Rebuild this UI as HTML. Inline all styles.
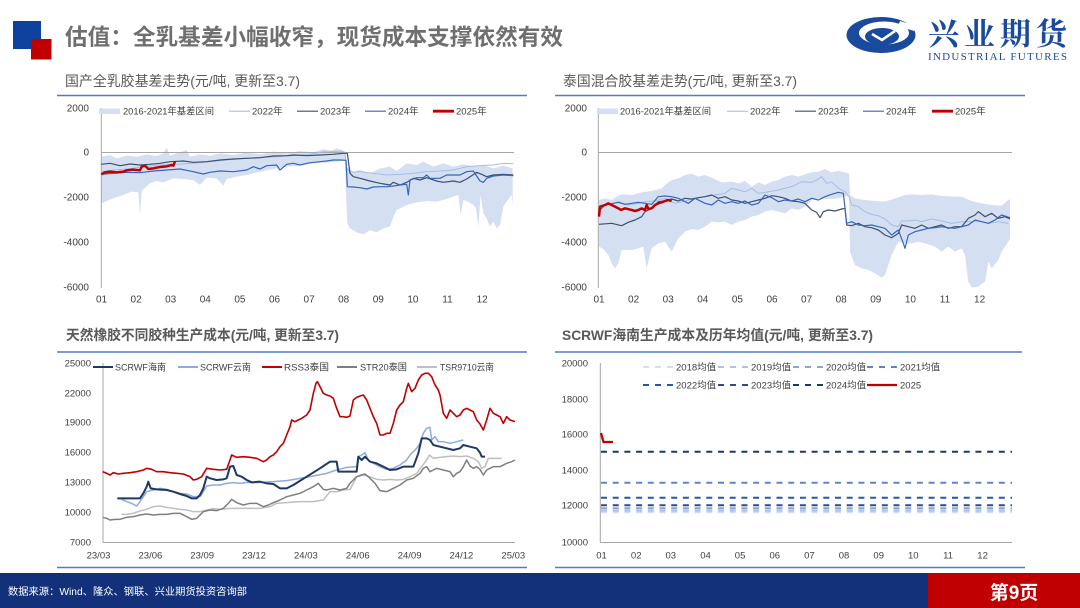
<!DOCTYPE html>
<html>
<head>
<meta charset="utf-8">
<style>
html,body{margin:0;padding:0;background:#fff;}
body{width:1080px;height:608px;overflow:hidden;}
svg{display:block;}
</style>
</head>
<body>
<svg width="1080" height="608" viewBox="0 0 1080 608" xmlns="http://www.w3.org/2000/svg" font-family="'Liberation Sans','Noto Sans CJK SC',sans-serif">
<rect x="0" y="0" width="1080" height="608" fill="#fff"/>

<!-- Header squares -->
<rect x="13" y="21" width="28" height="28" fill="#0E409E"/>
<rect x="31" y="39" width="20.5" height="20.5" fill="#C00000"/>
<text x="65" y="45" font-size="22.5" font-weight="bold" fill="#6F6F6F" textLength="498" lengthAdjust="spacingAndGlyphs">估值：全乳基差小幅收窄，现货成本支撑依然有效</text>

<!-- Logo -->
<g>
  <ellipse cx="881" cy="35" rx="34.5" ry="18" fill="#1A4A9E"/>
  <ellipse cx="884" cy="33" rx="25" ry="11.5" fill="#fff"/>
  <ellipse cx="882" cy="36.5" rx="17" ry="8.5" fill="#1A4A9E"/>
  <polyline points="872,34 882,40 895,31" fill="none" stroke="#fff" stroke-width="2.6"/>
  <polygon points="900,21 916,26 914,31 898,26" fill="#fff"/>
</g>
<text x="928" y="45" font-family="'Noto Serif CJK SC','Noto Sans CJK SC',serif" font-weight="bold" font-size="31" fill="#1A4A9E" textLength="139" lengthAdjust="spacing">兴业期货</text>
<text x="928" y="60" font-family="'Liberation Serif',serif" font-size="11" fill="#1A4A9E" textLength="139" lengthAdjust="spacing">INDUSTRIAL FUTURES</text>

<!-- Panel titles & rules -->
<g fill="#595959" font-size="14">
  <text x="65" y="86" textLength="235" lengthAdjust="spacingAndGlyphs">国产全乳胶基差走势(元/吨, 更新至3.7)</text>
  <text x="563" y="86" textLength="234" lengthAdjust="spacingAndGlyphs">泰国混合胶基差走势(元/吨, 更新至3.7)</text>
  <text x="66" y="340" font-weight="bold" textLength="273" lengthAdjust="spacingAndGlyphs">天然橡胶不同胶种生产成本(元/吨, 更新至3.7)</text>
  <text x="562" y="340" font-weight="bold" textLength="311" lengthAdjust="spacingAndGlyphs">SCRWF海南生产成本及历年均值(元/吨, 更新至3.7)</text>
</g>
<g stroke="#4F7EC6" stroke-width="1.6">
  <line x1="57" y1="95.5" x2="527" y2="95.5"/>
  <line x1="555" y1="95.5" x2="1025" y2="95.5"/>
  <line x1="57" y1="352" x2="527" y2="352"/>
  <line x1="555" y1="352" x2="1022" y2="352"/>
  <line x1="57" y1="567.5" x2="527" y2="567.5"/>
  <line x1="555" y1="567.5" x2="1025" y2="567.5"/>
</g>

<!-- ============ TOP LEFT CHART ============ -->
<g font-size="10" fill="#404040" text-anchor="end">
  <text x="89" y="111.5">2000</text>
  <text x="89" y="155.5">0</text>
  <text x="89" y="200.5">-2000</text>
  <text x="89" y="245.5">-4000</text>
  <text x="89" y="290.5">-6000</text>
</g>
<g font-size="10" fill="#404040" text-anchor="middle">
  <text x="101.5" y="302.5">01</text><text x="136.1" y="302.5">02</text><text x="170.7" y="302.5">03</text>
  <text x="205.3" y="302.5">04</text><text x="239.9" y="302.5">05</text><text x="274.5" y="302.5">06</text>
  <text x="309.1" y="302.5">07</text><text x="343.7" y="302.5">08</text><text x="378.3" y="302.5">09</text>
  <text x="412.9" y="302.5">10</text><text x="447.5" y="302.5">11</text><text x="482.1" y="302.5">12</text>
</g>
<g transform="translate(60,95) scale(0.333333)">
  <polygon fill="#D5DFF2" points="124,185 150,180 170,190 200,182 230,185 260,178 290,183 310,175 320,158 330,182 350,175 380,165 390,185 420,178 450,182 480,175 520,180 560,172 600,178 640,170 680,175 720,168 760,172 790,162 810,168 830,160 845,165 855,170 860,215 880,230 900,225 930,235 960,220 990,215 1010,228 1040,205 1070,210 1090,200 1120,215 1150,205 1180,215 1210,208 1240,215 1270,210 1300,220 1330,212 1358,220 1358,330 1355,300 1340,320 1330,335 1320,390 1310,400 1300,380 1290,395 1280,370 1270,355 1262,300 1255,395 1248,340 1240,330 1225,320 1210,315 1202,360 1195,300 1180,305 1160,312 1130,320 1100,318 1070,322 1045,328 1030,335 1010,345 1000,365 990,395 970,400 950,412 930,405 910,418 890,412 870,400 862,385 858,300 855,195 830,200 800,202 760,205 720,212 680,215 640,222 600,230 560,240 530,245 500,252 490,272 470,250 440,248 420,270 400,255 370,252 340,250 310,262 290,258 270,265 250,282 245,290 240,360 235,292 215,290 190,300 165,308 140,318 124,325"/>
</g>
<line x1="101.3" y1="108" x2="101.3" y2="288" stroke="#A6A6A6" stroke-width="1"/>
<line x1="101.3" y1="152.5" x2="514" y2="152.5" stroke="#A6A6A6" stroke-width="1"/>
<g transform="translate(60,95) scale(0.333333)" fill="none" stroke-linejoin="round">
  <polyline stroke="#A4BDE6" stroke-width="3" points="124,230 160,225 200,222 250,215 300,210 350,208 400,205 450,200 500,195 550,190 600,188 650,185 700,182 750,178 780,172 800,168 820,170 840,168 855,172 860,220 870,232 900,230 940,235 980,240 1020,238 1060,235 1100,230 1140,228 1180,225 1220,215 1260,212 1300,210 1330,205 1360,206"/>
  <polyline stroke="#3F4F6E" stroke-width="3.6" points="124,208 150,205 180,212 210,207 240,210 270,208 300,205 330,200 370,198 400,202 440,200 480,195 520,192 560,190 600,188 640,183 680,182 700,180 740,182 780,180 820,178 850,175 862,175 870,235 880,245 900,250 930,258 960,265 990,270 1000,262 1020,270 1040,262 1060,250 1080,255 1100,248 1130,258 1150,262 1180,258 1200,262 1220,252 1250,232 1265,238 1280,245 1300,240 1330,238 1360,240"/>
  <polyline stroke="#3566BA" stroke-width="3.6" points="124,238 160,235 200,232 240,233 280,228 320,225 360,222 400,230 430,237 450,232 480,228 520,230 560,225 580,215 600,222 620,212 650,210 660,225 680,208 700,205 720,210 750,203 780,200 800,198 820,195 840,195 858,196 862,275 880,276 900,278 920,282 940,276 960,275 980,275 1000,273 1020,270 1040,268 1045,300 1050,255 1070,248 1090,248 1100,240 1110,250 1140,250 1160,240 1200,240 1220,230 1240,228 1260,258 1270,262 1280,250 1300,243 1330,240 1360,242"/>
  <polyline stroke="#C00000" stroke-width="7.5" points="124,238 135,232 150,230 170,232 190,230 200,226 220,224 240,226 245,215 255,212 265,222 280,220 300,216 320,214 335,210 340,212 345,200"/>
</g>
<!-- legend TL -->
<g font-size="9.5" fill="#404040">
  <rect x="99" y="108.5" width="21" height="5.5" fill="#D5DFF2"/>
  <text x="123" y="114.5" textLength="91" lengthAdjust="spacingAndGlyphs">2016-2021年基差区间</text>
  <line x1="229" y1="111.2" x2="250" y2="111.2" stroke="#A4BDE6" stroke-width="1"/>
  <text x="252" y="114.5">2022年</text>
  <line x1="297" y1="111.2" x2="318" y2="111.2" stroke="#3F4F6E" stroke-width="1.2"/>
  <text x="320" y="114.5">2023年</text>
  <line x1="365" y1="111.2" x2="386" y2="111.2" stroke="#3566BA" stroke-width="1.2"/>
  <text x="388" y="114.5">2024年</text>
  <line x1="433" y1="111.2" x2="454" y2="111.2" stroke="#C00000" stroke-width="2.8"/>
  <text x="456" y="114.5">2025年</text>
</g>

<!-- ============ TOP RIGHT CHART ============ -->
<g font-size="10" fill="#404040" text-anchor="end">
  <text x="587" y="111.5">2000</text>
  <text x="587" y="155.5">0</text>
  <text x="587" y="200.5">-2000</text>
  <text x="587" y="245.5">-4000</text>
  <text x="587" y="290.5">-6000</text>
</g>
<g font-size="10" fill="#404040" text-anchor="middle">
  <text x="599" y="302.5">01</text><text x="633.6" y="302.5">02</text><text x="668.2" y="302.5">03</text>
  <text x="702.8" y="302.5">04</text><text x="737.4" y="302.5">05</text><text x="772" y="302.5">06</text>
  <text x="806.6" y="302.5">07</text><text x="841.2" y="302.5">08</text><text x="875.8" y="302.5">09</text>
  <text x="910.4" y="302.5">10</text><text x="945" y="302.5">11</text><text x="979.6" y="302.5">12</text>
</g>
<g transform="translate(545,95) scale(0.333333)">
  <polygon fill="#D5DFF2" points="162,315 180,310 200,315 215,305 230,298 260,300 290,292 320,288 350,280 360,270 380,255 400,250 420,240 440,236 460,245 480,240 500,248 530,262 560,260 580,265 600,258 620,275 640,262 660,270 680,260 700,255 720,245 740,240 760,245 780,238 800,232 820,230 840,222 860,232 880,228 900,232 912,236 915,300 930,310 960,315 990,318 1020,320 1050,310 1080,300 1100,298 1130,300 1160,298 1190,303 1220,305 1250,305 1280,318 1310,325 1340,330 1370,332 1390,315 1395,312 1395,430 1390,440 1370,470 1360,495 1340,520 1330,500 1320,560 1300,575 1280,578 1270,560 1260,480 1250,460 1230,470 1210,455 1190,470 1170,455 1150,448 1120,440 1100,445 1080,445 1060,440 1040,480 1020,540 1010,548 990,535 970,525 950,520 930,510 915,470 912,300 900,305 880,310 860,312 840,312 820,310 800,315 780,335 760,345 740,340 720,355 700,350 680,345 660,350 640,360 620,365 600,375 580,380 560,390 540,380 520,382 500,380 480,395 460,405 440,402 420,410 400,430 380,470 360,440 340,445 320,460 305,520 295,455 280,460 260,465 240,465 230,465 220,505 210,520 200,505 190,480 175,462 162,455"/>
</g>
<line x1="598.3" y1="108" x2="598.3" y2="288" stroke="#A6A6A6" stroke-width="1"/>
<line x1="598.3" y1="152.5" x2="1012" y2="152.5" stroke="#A6A6A6" stroke-width="1"/>
<g transform="translate(545,95) scale(0.333333)" fill="none" stroke-linejoin="round">
  <polyline stroke="#A4BDE6" stroke-width="3" points="162,335 190,330 220,320 250,330 280,325 300,320 330,318 360,310 390,325 420,318 450,310 480,305 510,300 540,295 560,280 580,285 600,290 620,280 640,295 660,292 700,285 740,275 770,260 800,262 815,255 830,245 845,265 860,260 880,280 900,290 912,305 920,330 940,335 960,350 980,358 1000,362 1020,372 1040,390 1060,395 1070,378 1090,378 1110,375 1130,380 1160,372 1190,378 1220,385 1250,380 1280,380 1300,378 1330,385 1360,380 1390,385"/>
  <polyline stroke="#3F4F6E" stroke-width="3.6" points="162,388 200,385 230,392 250,382 270,375 290,365 300,350 320,340 340,320 360,318 380,312 400,318 420,310 440,312 460,308 480,305 500,300 520,310 540,305 560,315 580,318 600,325 620,320 640,315 660,310 680,302 700,305 720,310 740,318 760,320 780,325 790,335 800,345 815,352 825,368 835,350 850,345 870,348 890,342 900,340 905,390 920,392 940,385 960,395 980,398 1000,405 1020,420 1040,428 1060,415 1070,390 1090,395 1110,400 1130,390 1150,400 1170,395 1190,390 1210,400 1230,395 1250,395 1270,370 1290,360 1300,350 1320,365 1340,355 1360,370 1380,365 1395,372"/>
  <polyline stroke="#3566BA" stroke-width="3.6" points="162,348 180,330 200,326 220,322 240,328 260,325 280,322 300,325 320,328 340,305 360,303 380,305 400,310 430,325 450,310 480,325 500,330 520,315 540,325 560,320 580,325 600,318 620,330 640,325 660,300 680,308 700,320 720,315 740,318 760,312 780,320 800,310 820,315 840,305 860,298 880,292 895,295 905,385 920,380 940,390 960,392 980,390 1000,395 1020,400 1040,420 1060,405 1075,445 1080,460 1090,420 1110,410 1130,405 1150,400 1170,398 1190,395 1210,398 1230,400 1250,395 1270,390 1290,375 1310,380 1330,385 1350,375 1370,360 1395,368"/>
  <polyline stroke="#C00000" stroke-width="7.5" points="162,365 165,335 180,330 190,325 200,330 210,335 220,340 228,345 240,340 260,345 270,348 280,345 290,340 300,345 305,330 310,342 320,340 330,330 340,325 350,322 360,318 370,315 380,318"/>
</g>
<!-- legend TR -->
<g font-size="9.5" fill="#404040">
  <rect x="597" y="108.5" width="21" height="5.5" fill="#D5DFF2"/>
  <text x="620" y="114.5" textLength="91" lengthAdjust="spacingAndGlyphs">2016-2021年基差区间</text>
  <line x1="727" y1="111.2" x2="748" y2="111.2" stroke="#A4BDE6" stroke-width="1"/>
  <text x="750" y="114.5">2022年</text>
  <line x1="795" y1="111.2" x2="816" y2="111.2" stroke="#3F4F6E" stroke-width="1.2"/>
  <text x="818" y="114.5">2023年</text>
  <line x1="863" y1="111.2" x2="884" y2="111.2" stroke="#3566BA" stroke-width="1.2"/>
  <text x="886" y="114.5">2024年</text>
  <line x1="932" y1="111.2" x2="953" y2="111.2" stroke="#C00000" stroke-width="2.8"/>
  <text x="955" y="114.5">2025年</text>
</g>

<!-- ============ BOTTOM LEFT CHART ============ -->
<g font-size="9.5" fill="#404040" text-anchor="end">
  <text x="91" y="366.5">25000</text>
  <text x="91" y="396.5">22000</text>
  <text x="91" y="425.5">19000</text>
  <text x="91" y="455.5">16000</text>
  <text x="91" y="485.5">13000</text>
  <text x="91" y="515.5">10000</text>
  <text x="91" y="545.5">7000</text>
</g>
<g font-size="9.5" fill="#404040" text-anchor="middle">
  <text x="98.5" y="558.5">23/03</text><text x="150.4" y="558.5">23/06</text><text x="202.2" y="558.5">23/09</text>
  <text x="254" y="558.5">23/12</text><text x="305.9" y="558.5">24/03</text><text x="357.8" y="558.5">24/06</text>
  <text x="409.6" y="558.5">24/09</text><text x="461.4" y="558.5">24/12</text><text x="513.3" y="558.5">25/03</text>
</g>
<line x1="103" y1="363" x2="103" y2="542.5" stroke="#A6A6A6" stroke-width="1"/>
<line x1="103" y1="542.5" x2="515" y2="542.5" stroke="#A6A6A6" stroke-width="1"/>
<g transform="translate(60,320) scale(0.333333)" fill="none" stroke-linejoin="round">
  <polyline stroke="#BFBFBF" stroke-width="4.5" points="185,583 200,583 220,580 240,573 260,568 280,560 300,558 320,562 340,565 360,568 380,570 400,575 420,575 440,570 460,566 480,568 500,566 520,565 560,565 600,565 630,560 650,550 680,548 720,545 760,545 790,540 810,515 830,515 850,510 870,508 880,490 890,470 910,465 930,470 950,478 970,480 990,478 1010,480 1030,478 1050,470 1070,460 1085,440 1100,420 1108,405 1120,415 1140,412 1160,410 1180,408 1200,410 1220,408 1240,415 1255,425 1265,445 1275,440 1285,415 1300,415 1325,415"/>
  <polyline stroke="#7F7F7F" stroke-width="4.5" points="128,592 140,595 150,600 165,598 180,598 200,592 220,590 240,585 260,582 280,585 300,583 320,583 340,580 360,580 380,590 395,598 410,595 430,575 450,570 470,572 490,565 505,550 515,538 530,548 550,555 570,550 590,550 610,560 625,555 640,548 660,540 680,530 700,525 720,520 740,510 760,500 775,490 790,508 800,510 820,505 840,510 860,505 870,490 880,480 890,470 905,465 915,462 930,475 945,490 960,512 980,515 1000,505 1020,495 1040,480 1060,475 1080,460 1090,445 1100,440 1110,455 1120,450 1130,445 1150,450 1170,455 1180,470 1190,460 1200,455 1210,440 1220,420 1230,438 1240,445 1250,440 1260,448 1270,465 1280,450 1300,440 1320,440 1340,430 1355,425 1365,420"/>
  <polyline stroke="#8FAADC" stroke-width="4.5" points="185,538 200,545 215,550 230,558 240,545 250,530 260,515 280,510 300,505 320,508 340,515 360,520 380,522 400,530 420,530 430,515 440,498 460,495 480,495 500,490 520,488 540,490 560,487 580,488 600,487 640,485 680,482 720,475 760,468 800,460 830,450 860,442 890,440 895,410 905,405 915,398 925,420 940,430 960,440 980,448 1000,445 1020,435 1040,420 1050,405 1060,395 1070,385 1080,370 1090,340 1100,325 1110,322 1115,360 1125,350 1135,365 1150,365 1170,370 1190,365 1210,360"/>
  <polyline stroke="#1F3864" stroke-width="6" points="172,535 240,535 250,520 260,500 265,485 272,505 290,508 320,510 340,515 360,522 380,528 395,535 410,535 420,525 430,505 440,470 450,475 470,480 490,478 500,475 510,440 520,438 530,465 545,470 560,480 575,487 600,485 620,490 640,492 660,505 680,505 700,495 740,470 780,445 810,425 830,425 835,455 890,455 895,410 905,420 915,410 930,425 950,430 970,440 990,450 1010,448 1030,440 1060,440 1075,400 1085,355 1100,355 1110,360 1120,375 1140,380 1160,385 1180,390 1200,385 1210,375 1230,380 1250,385 1260,398 1265,410 1275,410"/>
  <polyline stroke="#C00000" stroke-width="4.8" points="128,455 140,460 150,465 160,458 175,462 190,460 210,458 230,455 250,450 260,445 275,448 290,455 310,455 330,458 350,460 370,462 390,470 400,480 410,478 425,470 440,445 460,448 480,450 500,448 510,420 515,405 530,412 550,410 570,412 590,415 610,425 620,420 630,410 640,405 650,395 660,380 670,370 680,345 690,320 695,300 705,305 715,300 725,295 740,285 750,270 760,220 768,190 772,185 780,200 790,220 800,225 810,228 820,235 830,265 840,290 850,290 860,292 870,288 880,240 890,232 900,228 910,225 920,240 930,265 940,290 950,310 960,345 970,345 980,340 990,340 1000,310 1010,270 1020,255 1030,245 1040,205 1045,190 1055,215 1065,205 1075,180 1085,165 1095,160 1105,160 1115,170 1125,195 1135,210 1140,225 1150,280 1160,295 1170,270 1180,280 1190,290 1200,285 1210,270 1220,265 1230,270 1240,275 1250,300 1260,312 1270,330 1280,300 1290,265 1300,280 1310,285 1320,290 1330,310 1340,290 1350,300 1365,305"/>
</g>
<!-- legend BL -->
<g font-size="9.5" fill="#404040">
  <line x1="93" y1="367" x2="113" y2="367" stroke="#1F3864" stroke-width="2"/>
  <text x="115" y="370.5" textLength="51" lengthAdjust="spacingAndGlyphs">SCRWF海南</text>
  <line x1="178" y1="367" x2="198" y2="367" stroke="#8FAADC" stroke-width="2"/>
  <text x="200" y="370.5" textLength="51" lengthAdjust="spacingAndGlyphs">SCRWF云南</text>
  <line x1="262" y1="367" x2="282" y2="367" stroke="#C00000" stroke-width="2"/>
  <text x="284" y="370.5" textLength="45" lengthAdjust="spacingAndGlyphs">RSS3泰国</text>
  <line x1="337" y1="367" x2="357" y2="367" stroke="#7F7F7F" stroke-width="2"/>
  <text x="360" y="370.5" textLength="47" lengthAdjust="spacingAndGlyphs">STR20泰国</text>
  <line x1="417" y1="367" x2="437" y2="367" stroke="#BFBFBF" stroke-width="2"/>
  <text x="440" y="370.5" textLength="54" lengthAdjust="spacingAndGlyphs">TSR9710云南</text>
</g>

<!-- ============ BOTTOM RIGHT CHART ============ -->
<g font-size="9.5" fill="#404040" text-anchor="end">
  <text x="588" y="366.5">20000</text>
  <text x="588" y="402.5">18000</text>
  <text x="588" y="437.5">16000</text>
  <text x="588" y="473.5">14000</text>
  <text x="588" y="508.5">12000</text>
  <text x="588" y="545.5">10000</text>
</g>
<g font-size="9.5" fill="#404040" text-anchor="middle">
  <text x="601.5" y="558.5">01</text><text x="636.2" y="558.5">02</text><text x="670.8" y="558.5">03</text>
  <text x="705.5" y="558.5">04</text><text x="740.1" y="558.5">05</text><text x="774.8" y="558.5">06</text>
  <text x="809.4" y="558.5">07</text><text x="844" y="558.5">08</text><text x="878.7" y="558.5">09</text>
  <text x="913.3" y="558.5">10</text><text x="948" y="558.5">11</text><text x="982.6" y="558.5">12</text>
</g>
<line x1="600.3" y1="363" x2="600.3" y2="542.5" stroke="#A6A6A6" stroke-width="1"/>
<line x1="600.3" y1="542.5" x2="1012" y2="542.5" stroke="#A6A6A6" stroke-width="1"/>
<g fill="none" stroke-width="2" stroke-dasharray="6 5.7">
  <line x1="601" y1="512.2" x2="1012" y2="512.2" stroke="#D3DEF1"/>
  <line x1="601" y1="510.6" x2="1012" y2="510.6" stroke="#AEC3E8"/>
  <line x1="601" y1="508.2" x2="1012" y2="508.2" stroke="#86A5DA"/>
  <line x1="601" y1="505.3" x2="1012" y2="505.3" stroke="#2C4C8A"/>
  <line x1="601" y1="497.7" x2="1012" y2="497.7" stroke="#2458A8"/>
  <line x1="601" y1="482.7" x2="1012" y2="482.7" stroke="#5A86CC"/>
  <line x1="601" y1="451.7" x2="1012" y2="451.7" stroke="#203864"/>
</g>
<polyline points="601,433 603.5,442 613,442" fill="none" stroke="#C00000" stroke-width="2.3"/>
<!-- legend BR -->
<g font-size="9.5" fill="#404040">
  <g fill="none" stroke-width="2" stroke-dasharray="6 6">
    <line x1="643" y1="367" x2="673" y2="367" stroke="#D3DEF1"/>
    <line x1="718" y1="367" x2="748" y2="367" stroke="#AEC3E8"/>
    <line x1="793" y1="367" x2="823" y2="367" stroke="#86A5DA"/>
    <line x1="867" y1="367" x2="897" y2="367" stroke="#5A86CC"/>
    <line x1="643" y1="385" x2="673" y2="385" stroke="#2458A8"/>
    <line x1="718" y1="385" x2="748" y2="385" stroke="#2C4C8A"/>
    <line x1="793" y1="385" x2="823" y2="385" stroke="#203864"/>
  </g>
  <line x1="867" y1="385" x2="897" y2="385" stroke="#C00000" stroke-width="2.3"/>
  <text x="676" y="370.5">2018均值</text>
  <text x="751" y="370.5">2019均值</text>
  <text x="826" y="370.5">2020均值</text>
  <text x="900" y="370.5">2021均值</text>
  <text x="676" y="388.5">2022均值</text>
  <text x="751" y="388.5">2023均值</text>
  <text x="826" y="388.5">2024均值</text>
  <text x="900" y="388.5">2025</text>
</g>

<!-- Footer -->
<rect x="0" y="573" width="1080" height="35" fill="#13317B"/>
<rect x="928" y="573" width="152" height="35" fill="#C00000"/>
<text x="8" y="595" font-size="10" fill="#fff" textLength="239" lengthAdjust="spacingAndGlyphs">数据来源：Wind、隆众、钢联、兴业期货投资咨询部</text>
<text x="1014" y="599" font-size="19" font-weight="bold" fill="#fff" text-anchor="middle">第9页</text>
</svg>
</body>
</html>
